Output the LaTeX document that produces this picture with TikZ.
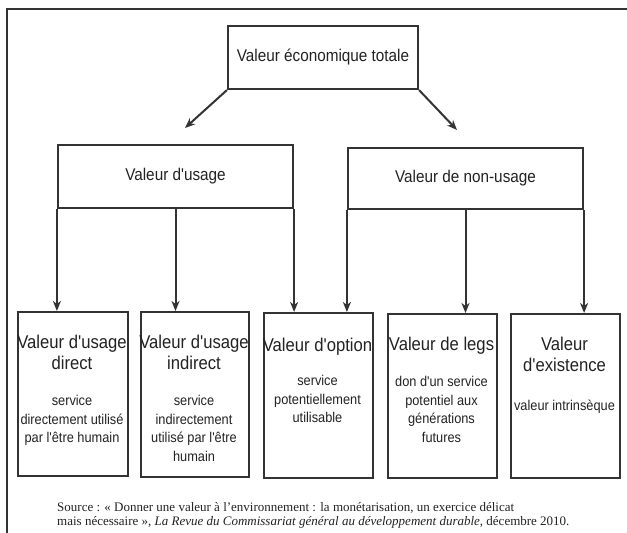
\documentclass[tikz,border=0pt]{standalone}
\usepackage{fontspec}
\setmainfont{Liberation Serif}
\newfontfamily\nsans[FakeStretch=0.9]{Liberation Sans}
\usetikzlibrary{arrows.meta,calc}
\definecolor{ink}{HTML}{222222}
\definecolor{lin}{HTML}{333333}
\begin{document}
\begin{tikzpicture}[x=1pt,y=-1pt,
  hbox/.style={draw=lin, line width=2.2pt, inner sep=0pt, text=ink,
    font=\nsans\fontsize{17}{20}\selectfont},
  bbox/.style={draw=lin, line width=2.2pt, inner sep=0pt, anchor=north west},
  ttl/.style={font=\nsans\fontsize{18.5}{21.5}\selectfont, align=center,
    inner sep=0pt, anchor=north, text=ink},
  dsc/.style={font=\nsans\fontsize{14.2}{18.5}\selectfont, align=center,
    inner sep=0pt, anchor=north, text=ink},
  src/.style={font=\fontsize{13}{14}\selectfont, inner sep=0pt,
    anchor=base west, text=ink},
  arr/.style={draw=lin, line width=2pt,
    -{Stealth[length=10pt,width=8pt,inset=3pt]}},
  frame/.style={draw=lin, line width=2pt}]
\useasboundingbox (0,0) rectangle (627,533);
% frame
\coordinate (fa) at (7,533);
\coordinate (fb) at (7,9);
\coordinate (fc) at (627,9);
\draw[frame] (fa) -- (fb) -- (fc);
% top and middle boxes
\node[hbox, minimum width=190pt, minimum height=63pt] (top) at (323,57.5)
  {Valeur économique totale};
\node[hbox, minimum width=235pt, minimum height=63pt] (lu) at (175.5,176.5)
  {Valeur d'usage};
\node[hbox, minimum width=235pt, minimum height=61pt] (ru) at (465.5,178.5)
  {Valeur de non-usage};
% bottom boxes
\node[bbox, minimum width=110pt, minimum height=164pt] (d1) at (17,311) {};
\node[bbox, minimum width=108pt, minimum height=165pt] (d2) at (140,311) {};
\node[bbox, minimum width=109pt, minimum height=165pt] (d3) at (263,312) {};
\node[bbox, minimum width=109pt, minimum height=164pt] (d4) at (387,313) {};
\node[bbox, minimum width=109pt, minimum height=164pt] (d5) at (510,313) {};
% texts in bottom boxes
\node[ttl] (t1) at (72,334.5) {Valeur d'usage\\direct};
\node[dsc] (s1) at (72,395.5) {service\\directement utilisé\\par l'être humain};
\node[ttl] (t2) at (194,334.5) {Valeur d'usage\\indirect};
\node[dsc] (s2) at (194,395.5) {service\\indirectement\\utilisé par l'être\\humain};
\node[ttl] (t3) at (317.5,337.5) {Valeur d'option};
\node[dsc] (s3) at (317.5,375.5) {service\\potentiellement\\utilisable};
\node[ttl] (t4) at (441.5,336.5) {Valeur de legs};
\node[dsc] (s4) at (441.5,376.5) {don d'un service\\potentiel aux\\générations\\futures};
\node[ttl] (t5) at (564.5,336.5) {Valeur\\d'existence};
\node[dsc] (s5) at (564.5,399.5) {valeur intrinsèque};
% connectors
\coordinate (al) at (185,128);
\coordinate (ar) at (457,130);
\draw[arr] (top.south west) -- (al);
\draw[arr] (top.south east) -- (ar);
\draw[arr] (lu.south west) -- (lu.south west |- d1.north);
\draw[arr] (lu.south) -- (lu.south |- d2.north);
\draw[arr] (lu.south east) -- (lu.south east |- d3.north);
\draw[arr] (ru.south west) -- (ru.south west |- d3.north);
\draw[arr] (ru.south) -- (ru.south |- d4.north);
\draw[arr] (ru.south east) -- (ru.south east |- d5.north);
% source
\node[src] (so1) at (57,511) {Source~: «~Donner une valeur à l'environnement~: la monétarisation, un exercice délicat};
\node[src] (so2) at (57,525) {mais nécessaire~», \textit{La Revue du Commissariat général au développement durable}, décembre 2010.};
\end{tikzpicture}
\end{document}
